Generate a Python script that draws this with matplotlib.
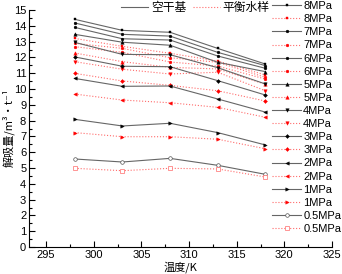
import matplotlib
matplotlib.use("Agg")
import matplotlib.pyplot as plt
from matplotlib.lines import Line2D
from matplotlib.ticker import MultipleLocator

plt.rcParams['font.family'] = ['Liberation Sans', 'Noto Sans CJK SC', 'DejaVu Sans']

temps = [298, 303, 308, 313, 318]
pressures = ['8MPa', '7MPa', '6MPa', '5MPa', '4MPa', '3MPa', '2MPa', '1MPa', '0.5MPa']

dry = {
    '8MPa': [14.41, 13.71, 13.59, 12.57, 11.58],
    '7MPa': [14.18, 13.46, 13.35, 12.32, 11.48],
    '6MPa': [13.90, 13.18, 13.10, 12.09, 11.31],
    '5MPa': [13.46, 12.96, 12.77, 11.69, 11.10],
    '4MPa': [12.95, 12.19, 12.17, 11.35, 10.32],
    '3MPa': [12.03, 11.44, 11.41, 10.53, 9.62],
    '2MPa': [10.67, 10.17, 10.19, 9.37, 8.54],
    '1MPa': [8.08, 7.66, 7.83, 7.24, 6.46],
    '0.5MPa': [5.57, 5.38, 5.61, 5.17, 4.60],
}
wet = {
    '8MPa': [13.20, 12.70, 12.26, 11.77, 10.89],
    '7MPa': [12.89, 12.57, 11.98, 11.69, 10.74],
    '6MPa': [12.68, 12.32, 11.71, 11.45, 10.63],
    '5MPa': [12.28, 11.73, 11.37, 11.27, 10.30],
    '4MPa': [11.73, 11.25, 10.95, 11.06, 9.89],
    '3MPa': [10.99, 10.51, 10.23, 9.89, 9.24],
    '2MPa': [9.68, 9.30, 9.13, 8.84, 8.21],
    '1MPa': [7.24, 6.98, 6.98, 6.82, 6.22],
    '0.5MPa': [4.98, 4.83, 4.98, 4.94, 4.43],
}
markers = {'8MPa': 's', '7MPa': 'o', '6MPa': 'o', '5MPa': '^', '4MPa': 'v',
           '3MPa': 'D', '2MPa': '<', '1MPa': '>', '0.5MPa': 'o'}

fig = plt.figure(figsize=(3.42, 2.74), dpi=100)
ax = fig.add_axes([29/342, 27/274, 303/342, 237/274])

black_line = '#666666'
red_line = '#ff6b6b'
handles = []
for p in pressures:
    m = markers[p]
    if p == '0.5MPa':
        hb, = ax.plot(temps, dry[p], color=black_line, lw=0.8, marker='o', ms=2.6,
                      mfc='white', mec='#555555', mew=0.5, label=p)
        hr, = ax.plot(temps, wet[p], color=red_line, lw=0.8, ls=':', marker='s', ms=2.6,
                      mfc='white', mec='#ff6b6b', mew=0.5, label=p)
    else:
        ms = 2.0 if m in ('s', 'o', 'D') else 2.5
        hb, = ax.plot(temps, dry[p], color=black_line, lw=0.8, marker=m, ms=ms,
                      mfc='black', mec='black', mew=0.3, label=p)
        hr, = ax.plot(temps, wet[p], color=red_line, lw=0.8, ls=':', marker=m, ms=ms,
                      mfc='red', mec='red', mew=0.3, label=p)
    handles += [hb, hr]

ax.set_xlim(293.2, 325)
ax.set_ylim(0, 15)
ax.xaxis.set_major_locator(MultipleLocator(5))
ax.xaxis.set_minor_locator(MultipleLocator(2.5))
ax.yaxis.set_major_locator(MultipleLocator(1))
ax.yaxis.set_minor_locator(MultipleLocator(0.5))
ax.tick_params(which='both', direction='in', labelsize=8, width=0.8)
ax.tick_params(which='major', length=4, pad=2)
ax.tick_params(which='minor', length=2)
for s in ['top', 'right']:
    ax.spines[s].set_visible(False)
for s in ['left', 'bottom']:
    ax.spines[s].set_linewidth(0.8)

cjk = ['Noto Sans CJK SC', 'DejaVu Sans']
fig.text(180/342, 1 - 267/274, '温度/K', fontsize=8, family=cjk, ha='center', va='center')
fig.text(8/342, 1 - 128/274, '解吸量/m³·t⁻¹', fontsize=8, family=cjk, ha='center',
         va='center', rotation=90)

leg = fig.legend(handles=handles, loc='upper left', bbox_to_anchor=(271/342, 1.0),
                 frameon=False, fontsize=8, labelspacing=0.28, handlelength=2.6,
                 handletextpad=0.2, borderaxespad=0, borderpad=0.1)

top_handles = [Line2D([], [], color=black_line, lw=0.8),
               Line2D([], [], color=red_line, lw=0.8, ls=':')]
leg2 = fig.legend(handles=top_handles, labels=['空干基', '平衡水样'], loc='upper left',
                  bbox_to_anchor=(120/342, 1.0), ncol=2, frameon=False,
                  handlelength=2.3, handletextpad=0.2, columnspacing=0.6,
                  borderaxespad=0, borderpad=0.1,
                  prop={'family': cjk, 'size': 8.5})

fig.savefig('out.png', dpi=100)
